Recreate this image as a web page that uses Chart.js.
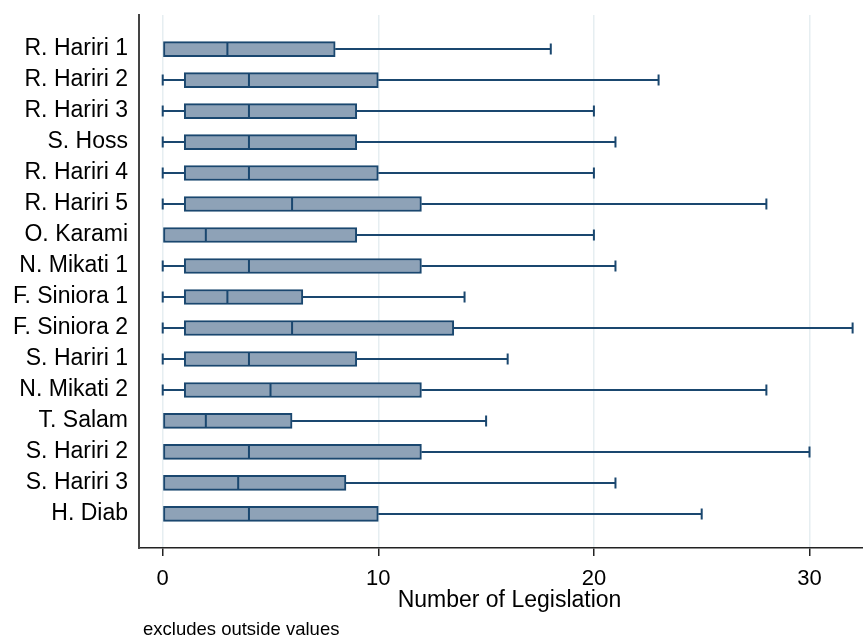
<!DOCTYPE html>
<html>
<head>
<meta charset="utf-8">
<script src="https://cdn.jsdelivr.net/npm/chart.js@4.4.1/dist/chart.umd.min.js"></script>
<style>
html, body { margin: 0; padding: 0; background: #fff; overflow: hidden; width: 863px; height: 637px; }
#wrap { width: 880px; height: 637px; }
</style>
</head>
<body>
<div id="wrap"><canvas id="chart_legislationBox"></canvas></div>
<script>
// one row per cabinet, top to bottom
var cabinets = ['R. Hariri 1', 'R. Hariri 2', 'R. Hariri 3', 'S. Hoss', 'R. Hariri 4', 'R. Hariri 5',
    'O. Karami', 'N. Mikati 1', 'F. Siniora 1', 'F. Siniora 2', 'S. Hariri 1', 'N. Mikati 2',
    'T. Salam', 'S. Hariri 2', 'S. Hariri 3', 'H. Diab'];
var lowerWhisker = [0, 0, 0, 0, 0, 0, 0, 0, 0, 0, 0, 0, 0, 0, 0, 0];
var q1 = [0, 1, 1, 1, 1, 1, 0, 1, 1, 1, 1, 1, 0, 0, 0, 0];
var median = [3, 4, 4, 4, 4, 6, 2, 4, 3, 6, 4, 5, 2, 4, 3.5, 4];
var q3 = [8, 10, 9, 9, 10, 12, 9, 12, 6.5, 13.5, 9, 12, 6, 12, 8.5, 10];
var upperWhisker = [18, 23, 20, 21, 20, 28, 20, 21, 14, 32, 16, 28, 15, 30, 21, 25];
var xTicks = [0, 10, 20, 30];

var boxNavy = '#1a476f';
var fontFamily = '"Liberation Sans", Arial, sans-serif';

var boxExtras = {
    id: 'boxExtras',
    beforeDatasetsDraw: (chart) => {
        const ctx = chart.ctx;
        const xs = chart.scales.x, ys = chart.scales.y;
        ctx.save();
        ctx.strokeStyle = boxNavy;
        ctx.lineWidth = 2;
        cabinets.forEach((c, i) => {
            const yp = ys.getPixelForValue(i);
            const segs = [[lowerWhisker[i], q1[i]], [upperWhisker[i], q3[i]]];
            segs.forEach(([end, boxEdge]) => {
                if (end === boxEdge) return;
                const a = xs.getPixelForValue(end), b = xs.getPixelForValue(boxEdge);
                ctx.beginPath();
                ctx.moveTo(a, yp); ctx.lineTo(b, yp);
                ctx.moveTo(a, yp - 5.5); ctx.lineTo(a, yp + 5.5);
                ctx.stroke();
            });
        });
        ctx.restore();
    },
    afterDatasetsDraw: (chart) => {
        const ctx = chart.ctx;
        const xs = chart.scales.x, ys = chart.scales.y;
        ctx.save();
        ctx.strokeStyle = boxNavy;
        ctx.lineWidth = 2;
        median.forEach((m, i) => {
            const yp = ys.getPixelForValue(i);
            const xp = xs.getPixelForValue(m);
            ctx.beginPath();
            ctx.moveTo(xp, yp - 7); ctx.lineTo(xp, yp + 7);
            ctx.stroke();
        });
        ctx.restore();
    },
    afterDraw: (chart) => {
        const ctx = chart.ctx;
        ctx.save();
        ctx.fillStyle = '#000';
        ctx.font = '18.5px ' + fontFamily;
        ctx.textBaseline = 'middle';
        ctx.fillText('excludes outside values', 143, 630);
        ctx.restore();
    }
};

var chart_legislationBox = new Chart(document.getElementById('chart_legislationBox'), {
    type: 'bar',
    data: {
        datasets: [{
            label: 'Number of Legislation',
            data: cabinets.map((c, i) => ({ x: [q1[i], q3[i]], y: i })),
            backgroundColor: '#8ea2b7',
            borderColor: boxNavy,
            borderWidth: 2,
            borderSkipped: false,
            barThickness: 15
        }]
    },
    options: {
        indexAxis: 'y',
        animation: false,
        responsive: true,
        maintainAspectRatio: false,
        layout: { padding: { top: 15, right: 0, left: 0, bottom: 0 } },
        plugins: {
            legend: { display: false },
            tooltip: { enabled: false }
        },
        scales: {
            x: {
                type: 'linear',
                min: -1.10,
                max: 33.27,
                afterBuildTicks: (scale) => { scale.ticks = xTicks.map(v => ({ value: v })); },
                afterFit: (scale) => { scale.height = 89; scale.paddingLeft = 0; scale.paddingRight = 0; },
                grid: {
                    color: '#e6eef1',
                    lineWidth: 1.5,
                    tickColor: '#222',
                    tickWidth: 1.5,
                    tickLength: 8
                },
                border: { display: true, color: '#222', width: 1.5 },
                ticks: {
                    color: '#000',
                    padding: 10,
                    maxRotation: 0,
                    font: { family: fontFamily, size: 22 }
                },
                title: {
                    display: true,
                    text: 'Number of Legislation',
                    color: '#000',
                    font: { family: fontFamily, size: 23 },
                    padding: { top: 0, bottom: 23 }
                }
            },
            y: {
                type: 'linear',
                reverse: true,
                offset: false,
                min: -1.10,
                max: 16.10,
                afterBuildTicks: (scale) => { scale.ticks = cabinets.map((c, i) => ({ value: i })); },
                afterFit: (scale) => { scale.width = 139; scale.paddingTop = 0; scale.paddingBottom = 0; },
                grid: { display: false, drawTicks: false },
                border: { display: true, color: '#444', width: 2 },
                ticks: {
                    color: '#000',
                    padding: 11,
                    autoSkip: false,
                    font: { family: fontFamily, size: 23 },
                    callback: function(value) { return cabinets[value]; }
                }
            }
        }
    },
    plugins: [boxExtras, {
        id: 'whiteBackground',
        beforeDraw: (chart) => {
            const ctx = chart.canvas.getContext('2d');
            ctx.save();
            ctx.globalCompositeOperation = 'destination-over';
            ctx.fillStyle = 'white';
            ctx.fillRect(0, 0, chart.canvas.width, chart.canvas.height);
            ctx.restore();
        }
    }]
});
</script>
</body>
</html>
